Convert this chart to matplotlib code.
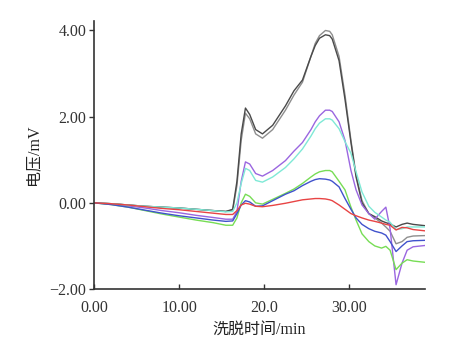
import matplotlib.pyplot as plt
from matplotlib.ticker import FixedLocator

# elution time (min)
t = [0, 2, 4, 6, 8, 10, 12, 14, 15.5, 16.3, 16.8, 17.3, 17.8, 18.3, 19, 19.8,
     21, 22.5, 23.5, 24.5, 25.5, 26.0, 26.5, 27.2, 27.7, 28, 28.8, 29.5, 30.2, 30.8,
     31.5, 32.3, 33, 33.8, 34.3, 34.8, 35.5, 36.2, 36.8, 37.5, 38.9]

# detector voltage (mV) for each sample
v_dark = [0, -0.02, -0.05, -0.08, -0.1, -0.12, -0.15, -0.18, -0.2, -0.15, 0.5, 1.6,
          2.2, 2.05, 1.7, 1.6, 1.8, 2.25, 2.6, 2.85, 3.4, 3.65, 3.82, 3.9, 3.88, 3.8,
          3.3, 2.4, 1.4, 0.6, 0.0, -0.25, -0.32, -0.42, -0.46, -0.49, -0.56, -0.5, -0.47,
          -0.5, -0.53]
v_light = [0, -0.02, -0.05, -0.08, -0.1, -0.12, -0.15, -0.18, -0.2, -0.17, 0.4, 1.45,
           2.08, 1.95, 1.6, 1.5, 1.7, 2.15, 2.5, 2.8, 3.4, 3.7, 3.88, 4.0, 3.98, 3.9,
           3.4, 2.5, 1.45, 0.65, 0.05, -0.25, -0.35, -0.47, -0.56, -0.66, -0.95, -0.9,
           -0.8, -0.77, -0.76]
v_purple = [0, -0.03, -0.07, -0.12, -0.18, -0.23, -0.29, -0.34, -0.38, -0.38, -0.2, 0.5,
            0.95, 0.9, 0.68, 0.62, 0.75, 0.98, 1.2, 1.4, 1.7, 1.88, 2.02, 2.15, 2.15, 2.12,
            1.88, 1.45, 0.75, 0.3, -0.05, -0.25, -0.38, -0.2, -0.1, -0.6, -1.9, -1.4, -1.1,
            -1.02, -0.99]
v_aqua = [0, -0.02, -0.05, -0.08, -0.1, -0.12, -0.15, -0.18, -0.21, -0.2, 0.0, 0.45,
          0.8, 0.75, 0.52, 0.48, 0.6, 0.82, 1.02, 1.25, 1.55, 1.72, 1.85, 1.95, 1.95, 1.92,
          1.72, 1.42, 1.15, 0.72, 0.25, -0.08, -0.22, -0.33, -0.4, -0.45, -0.62, -0.6,
          -0.56, -0.56, -0.56]
v_green = [0, -0.04, -0.1, -0.18, -0.26, -0.33, -0.4, -0.46, -0.52, -0.52, -0.35, 0.0,
           0.2, 0.15, 0.0, -0.03, 0.08, 0.22, 0.32, 0.45, 0.6, 0.67, 0.72, 0.75, 0.75, 0.72,
           0.5, 0.3, -0.1, -0.4, -0.72, -0.9, -1.0, -1.05, -1.01, -1.1, -1.55, -1.4, -1.32,
           -1.35, -1.38]
v_blue = [0, -0.04, -0.1, -0.17, -0.24, -0.3, -0.35, -0.4, -0.43, -0.42, -0.25, -0.05,
          0.05, 0.02, -0.08, -0.07, 0.05, 0.2, 0.28, 0.4, 0.5, 0.54, 0.56, 0.55, 0.53, 0.5,
          0.37, 0.1, -0.15, -0.35, -0.5, -0.6, -0.66, -0.7, -0.75, -0.9, -1.13, -1.0, -0.9,
          -0.88, -0.87]
v_red = [0, -0.02, -0.05, -0.09, -0.13, -0.16, -0.2, -0.24, -0.27, -0.27, -0.18, -0.05,
         -0.01, -0.03, -0.08, -0.09, -0.06, -0.01, 0.03, 0.07, 0.09, 0.1, 0.1, 0.09, 0.07,
         0.05, -0.05, -0.15, -0.25, -0.3, -0.35, -0.4, -0.43, -0.47, -0.5, -0.52, -0.63,
         -0.57, -0.58, -0.62, -0.65]

xticks = [0, 10, 20, 30]
xlabels = ["0.00", "10.00", "20.0", "30.00"]
yticks = [-2, 0, 2, 4]
ylabels = ["\u22122.00", "0.00", "2.00", "4.00"]

series = [
    (v_light, "#8e8e8e"),
    (v_dark, "#4a4a4a"),
    (v_purple, "#9a66e0"),
    (v_aqua, "#7fe9d6"),
    (v_green, "#77dd55"),
    (v_blue, "#4052cc"),
    (v_red, "#e84444"),
]

fig = plt.figure(figsize=(4.74, 3.47), dpi=100)
ax = fig.add_axes([0.1983, 0.1671, 0.6983, 0.7724])

for vals, c in series:
    ax.plot(t, vals, color=c, lw=1.0)

ax.set_xlim(0, 38.9)
ax.set_ylim(-2, 4.22)

for s in ["top", "right"]:
    ax.spines[s].set_visible(False)
for s in ["left", "bottom"]:
    ax.spines[s].set_color("#333333")
    ax.spines[s].set_linewidth(1.2)

serif = ["Liberation Serif", "Noto Sans CJK SC"]
ax.xaxis.set_major_locator(FixedLocator(xticks))
ax.set_xticklabels(xlabels, fontfamily=serif, fontsize=11.5, color="#333333")
ax.yaxis.set_major_locator(FixedLocator(yticks))
ax.set_yticklabels(ylabels, fontfamily=serif, fontsize=11.5, color="#333333")
ax.tick_params(axis="x", direction="in", length=3.5, width=1, color="#333333", pad=8)
ax.tick_params(axis="y", direction="out", length=3.5, width=1, color="#333333", pad=2)

ax.set_xlabel("洗脱时间/min", fontfamily=serif, fontsize=11.5, color="#222222")
ax.set_ylabel("电压/mV", fontfamily=serif, fontsize=11.5, color="#222222")
ax.xaxis.label.set_va("center")
ax.yaxis.label.set_va("center")
ax.xaxis.set_label_coords(0.5, -0.153)
ax.yaxis.set_label_coords(-0.184, 0.5)

fig.savefig("out.png", dpi=100)
